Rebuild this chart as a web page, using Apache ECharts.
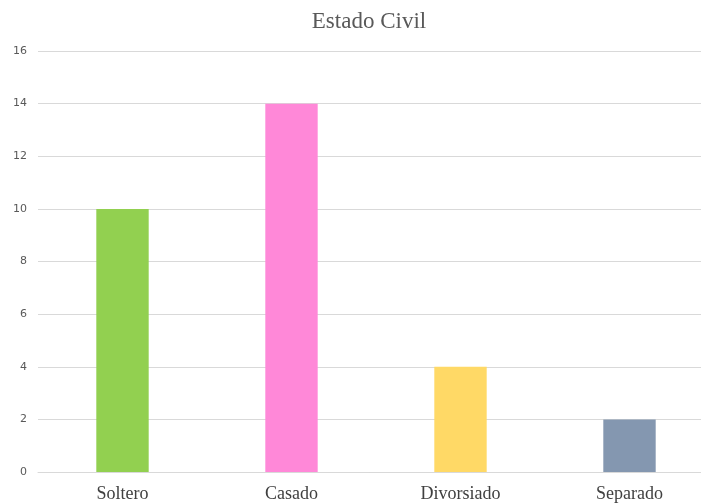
<!DOCTYPE html>
<html>
<head>
<meta charset="utf-8">
<script src="https://cdn.jsdelivr.net/npm/echarts@6/dist/echarts.min.js"></script>
<style>
  html, body { margin: 0; padding: 0; background: #fff; }
  #chart { width: 701px; height: 504px; }
</style>
</head>
<body>
<div id="chart"></div>
<script>
const categories = ['Soltero', 'Casado', 'Divorsiado', 'Separado']
const counts = [10, 14, 4, 2]
const barColors = ['#92d050', '#ff88d8', '#ffd966', '#8497b0']

const chart = echarts.init(document.getElementById('chart'))
chart.setOption({
  animation: false,
  title: {
    text: 'Estado Civil',
    left: 364,
    top: 5,
    textAlign: 'center',
    textStyle: {
      fontFamily: 'Liberation Serif',
      fontSize: 23,
      fontWeight: 'normal',
      color: '#595959'
    }
  },
  grid: {
    left: 38,
    width: 676,
    top: 51,
    height: 421,
    containLabel: false,
    outerBoundsMode: 'none'
  },
  xAxis: {
    type: 'category',
    data: categories,
    axisLine: { lineStyle: { color: '#d9d9d9' } },
    axisTick: { show: false },
    axisLabel: {
      margin: 13,
      fontFamily: 'Liberation Serif',
      fontSize: 18,
      color: '#404040'
    }
  },
  yAxis: {
    type: 'value',
    min: 0,
    max: 16,
    interval: 2,
    axisLine: { show: false },
    axisTick: { show: false },
    splitLine: { lineStyle: { color: '#d9d9d9' } },
    axisLabel: {
      margin: 11,
      fontFamily: 'DejaVu Sans',
      fontSize: 11,
      color: '#595959'
    }
  },
  series: [
    {
      type: 'bar',
      data: counts.map((v, i) => ({ value: v, itemStyle: { color: barColors[i] } })),
      barWidth: '31%'
    }
  ]
})
</script>
</body>
</html>
